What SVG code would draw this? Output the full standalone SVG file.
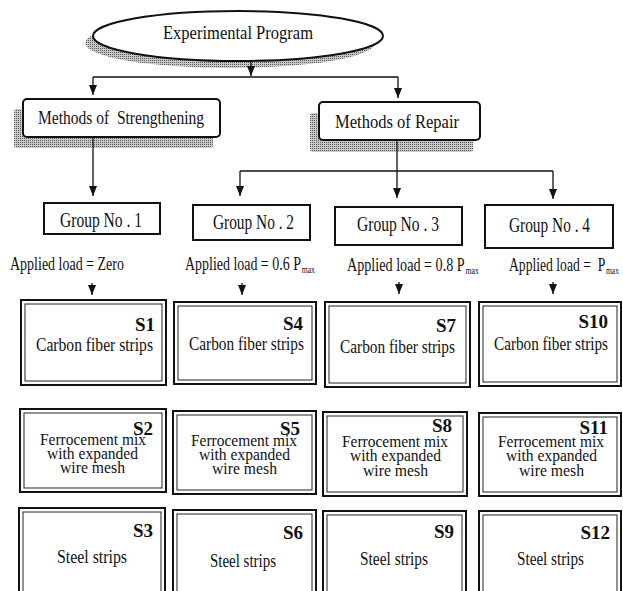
<svg xmlns="http://www.w3.org/2000/svg" width="623" height="591" viewBox="0 0 623 591" font-family="'Liberation Serif', 'DejaVu Serif', serif">
<defs>
<style>
text{font-family:"Liberation Serif","DejaVu Serif",serif;fill:#111;}
.t19{font-size:19px;}
.t20{font-size:20px;}
.t18{font-size:18px;}
.t17{font-size:17px;}
.lbl{font-size:19px;font-weight:bold;text-anchor:end;}
.bx{fill:#fff;stroke:#111;stroke-width:2;}
.ob{fill:#fff;stroke:#111;stroke-width:2;}
.ib{fill:none;stroke:#222;stroke-width:1;}
.sh{fill:url(#dots);stroke:none;}
.cn{fill:none;stroke:#111;stroke-width:1.3;}
</style>
<pattern id="dots" width="2" height="2" patternUnits="userSpaceOnUse">
<rect width="2" height="2" fill="#c8c8c8"/>
<rect width="1" height="1" fill="#5a5a5a"/>
</pattern>
<marker id="ah" markerWidth="10" markerHeight="8" refX="10" refY="4" orient="auto" markerUnits="userSpaceOnUse">
<path d="M0,0 L10,4 L0,8 z" fill="#111"/>
</marker>
</defs>

<g id="experimental-program">
<ellipse class="sh" cx="230" cy="43" rx="145" ry="25"/>
<ellipse cx="238" cy="36" rx="145" ry="25" fill="#fff" stroke="#111" stroke-width="2"/>
<text class="t19" x="163" y="39" textLength="150" lengthAdjust="spacingAndGlyphs">Experimental Program</text>
</g>

<g id="methods-strengthening">
<rect class="sh" x="14" y="109" width="199" height="39" rx="3"/>
<rect class="bx" x="23" y="99" width="197" height="38" rx="4"/>
<text class="t19" x="38" y="124" textLength="166" lengthAdjust="spacingAndGlyphs" xml:space="preserve">Methods of  Strengthening</text>
</g>

<g id="methods-repair">
<rect class="sh" x="310" y="113" width="163" height="39" rx="3"/>
<rect class="bx" x="319" y="102" width="161" height="38" rx="4"/>
<text class="t19" x="335" y="128" textLength="124" lengthAdjust="spacingAndGlyphs">Methods of Repair</text>
</g>

<g id="group1">
<rect class="bx" x="44" y="203" width="116" height="31"/>
<text class="t20" x="60" y="227" textLength="82" lengthAdjust="spacingAndGlyphs">Group No . 1</text>
</g>
<g id="group2">
<rect class="bx" x="193" y="205" width="117" height="35"/>
<text class="t20" x="213" y="229" textLength="81" lengthAdjust="spacingAndGlyphs">Group No . 2</text>
</g>
<g id="group3">
<rect class="bx" x="335" y="207" width="127" height="38"/>
<text class="t20" x="357" y="231" textLength="82" lengthAdjust="spacingAndGlyphs">Group No . 3</text>
</g>
<g id="group4">
<rect class="bx" x="485" y="205" width="128" height="43"/>
<text class="t20" x="509" y="232" textLength="81" lengthAdjust="spacingAndGlyphs">Group No . 4</text>
</g>

<g id="loads">
<text class="t18" x="10" y="270" textLength="114" lengthAdjust="spacingAndGlyphs">Applied load = Zero</text>
<text class="t18" x="185" y="270" textLength="130" lengthAdjust="spacingAndGlyphs">Applied load = 0.6 P<tspan font-size="10" dx="1" dy="3">max</tspan></text>
<text class="t18" x="347" y="271" textLength="132" lengthAdjust="spacingAndGlyphs">Applied load = 0.8 P<tspan font-size="10" dx="1" dy="3">max</tspan></text>
<text class="t18" x="509" y="271" textLength="110" lengthAdjust="spacingAndGlyphs" xml:space="preserve">Applied load =  P<tspan font-size="10" dx="1" dy="3">max</tspan></text>
</g>

<g id="connectors">
<path class="cn" d="M251,61 V76" marker-end="url(#ah)"/>
<path class="cn" d="M93,77 H398"/>
<path class="cn" d="M93,77 V95" marker-end="url(#ah)"/>
<path class="cn" d="M398,77 V98" marker-end="url(#ah)"/>
<path class="cn" d="M93,137 V196" marker-end="url(#ah)"/>
<path class="cn" d="M397,140 V198" marker-end="url(#ah)"/>
<path class="cn" d="M240,171 H553"/>
<path class="cn" d="M240,171 V196" marker-end="url(#ah)"/>
<path class="cn" d="M553,171 V199" marker-end="url(#ah)"/>
<path class="cn" d="M92,283 V295" marker-end="url(#ah)"/>
<path class="cn" d="M242,283 V295" marker-end="url(#ah)"/>
<path class="cn" d="M399,282 V294" marker-end="url(#ah)"/>
<path class="cn" d="M553,282 V294" marker-end="url(#ah)"/>
</g>

<g id="S1">
<rect class="ob" x="21" y="300" width="145" height="85"/>
<rect class="ib" x="25" y="304" width="137" height="77"/>
<text class="lbl" x="155" y="331">S1</text>
<text class="t18" x="36" y="351" textLength="117" lengthAdjust="spacingAndGlyphs">Carbon fiber strips</text>
</g>
<g id="S4">
<rect class="ob" x="174" y="302" width="142" height="82"/>
<rect class="ib" x="178" y="306" width="134" height="74"/>
<text class="lbl" x="303" y="330">S4</text>
<text class="t18" x="189" y="350" textLength="115" lengthAdjust="spacingAndGlyphs">Carbon fiber strips</text>
</g>
<g id="S7">
<rect class="ob" x="325" y="302" width="145" height="85"/>
<rect class="ib" x="329" y="306" width="137" height="77"/>
<text class="lbl" x="456" y="332">S7</text>
<text class="t18" x="340" y="353" textLength="115" lengthAdjust="spacingAndGlyphs">Carbon fiber strips</text>
</g>
<g id="S10">
<rect class="ob" x="479" y="302" width="142" height="84"/>
<rect class="ib" x="483" y="306" width="134" height="76"/>
<text class="lbl" x="608" y="328">S10</text>
<text class="t18" x="494" y="350" textLength="114" lengthAdjust="spacingAndGlyphs">Carbon fiber strips</text>
</g>

<g id="S2">
<rect class="ob" x="20" y="409" width="146" height="83"/>
<rect class="ib" x="24" y="413" width="138" height="75"/>
<text class="lbl" x="153" y="435">S2</text>
<text class="t17" x="40" y="445" textLength="106" lengthAdjust="spacingAndGlyphs">Ferrocement mix</text>
<text class="t17" x="47" y="459" textLength="91" lengthAdjust="spacingAndGlyphs">with expanded</text>
<text class="t17" x="60" y="473" textLength="65" lengthAdjust="spacingAndGlyphs">wire mesh</text>
</g>
<g id="S5">
<rect class="ob" x="173" y="411" width="143" height="83"/>
<rect class="ib" x="177" y="415" width="135" height="75"/>
<text class="lbl" x="300" y="435">S5</text>
<text class="t17" x="191" y="446" textLength="106" lengthAdjust="spacingAndGlyphs">Ferrocement mix</text>
<text class="t17" x="199" y="460" textLength="91" lengthAdjust="spacingAndGlyphs">with expanded</text>
<text class="t17" x="212" y="474" textLength="65" lengthAdjust="spacingAndGlyphs">wire mesh</text>
</g>
<g id="S8">
<rect class="ob" x="323" y="412" width="144" height="84"/>
<rect class="ib" x="327" y="416" width="136" height="76"/>
<text class="lbl" x="452" y="432">S8</text>
<text class="t17" x="342" y="447" textLength="106" lengthAdjust="spacingAndGlyphs">Ferrocement mix</text>
<text class="t17" x="350" y="461" textLength="91" lengthAdjust="spacingAndGlyphs">with expanded</text>
<text class="t17" x="363" y="476" textLength="65" lengthAdjust="spacingAndGlyphs">wire mesh</text>
</g>
<g id="S11">
<rect class="ob" x="479" y="413" width="142" height="83"/>
<rect class="ib" x="483" y="417" width="134" height="75"/>
<text class="lbl" x="608" y="434">S11</text>
<text class="t17" x="498" y="447" textLength="106" lengthAdjust="spacingAndGlyphs">Ferrocement mix</text>
<text class="t17" x="506" y="461" textLength="91" lengthAdjust="spacingAndGlyphs">with expanded</text>
<text class="t17" x="519" y="476" textLength="65" lengthAdjust="spacingAndGlyphs">wire mesh</text>
</g>

<g id="S3">
<rect class="ob" x="19" y="508" width="146" height="100"/>
<rect class="ib" x="23" y="512" width="138" height="92"/>
<text class="lbl" x="153" y="537">S3</text>
<text class="t18" x="57" y="563" textLength="70" lengthAdjust="spacingAndGlyphs">Steel strips</text>
</g>
<g id="S6">
<rect class="ob" x="173" y="510" width="143" height="100"/>
<rect class="ib" x="177" y="514" width="135" height="92"/>
<text class="lbl" x="303" y="539">S6</text>
<text class="t18" x="210" y="567" textLength="66" lengthAdjust="spacingAndGlyphs">Steel strips</text>
</g>
<g id="S9">
<rect class="ob" x="323" y="511" width="143" height="100"/>
<rect class="ib" x="327" y="515" width="135" height="92"/>
<text class="lbl" x="454" y="538">S9</text>
<text class="t18" x="360" y="565" textLength="68" lengthAdjust="spacingAndGlyphs">Steel strips</text>
</g>
<g id="S12">
<rect class="ob" x="479" y="511" width="142" height="100"/>
<rect class="ib" x="483" y="515" width="134" height="92"/>
<text class="lbl" x="610" y="539">S12</text>
<text class="t18" x="517" y="565" textLength="67" lengthAdjust="spacingAndGlyphs">Steel strips</text>
</g>
</svg>
